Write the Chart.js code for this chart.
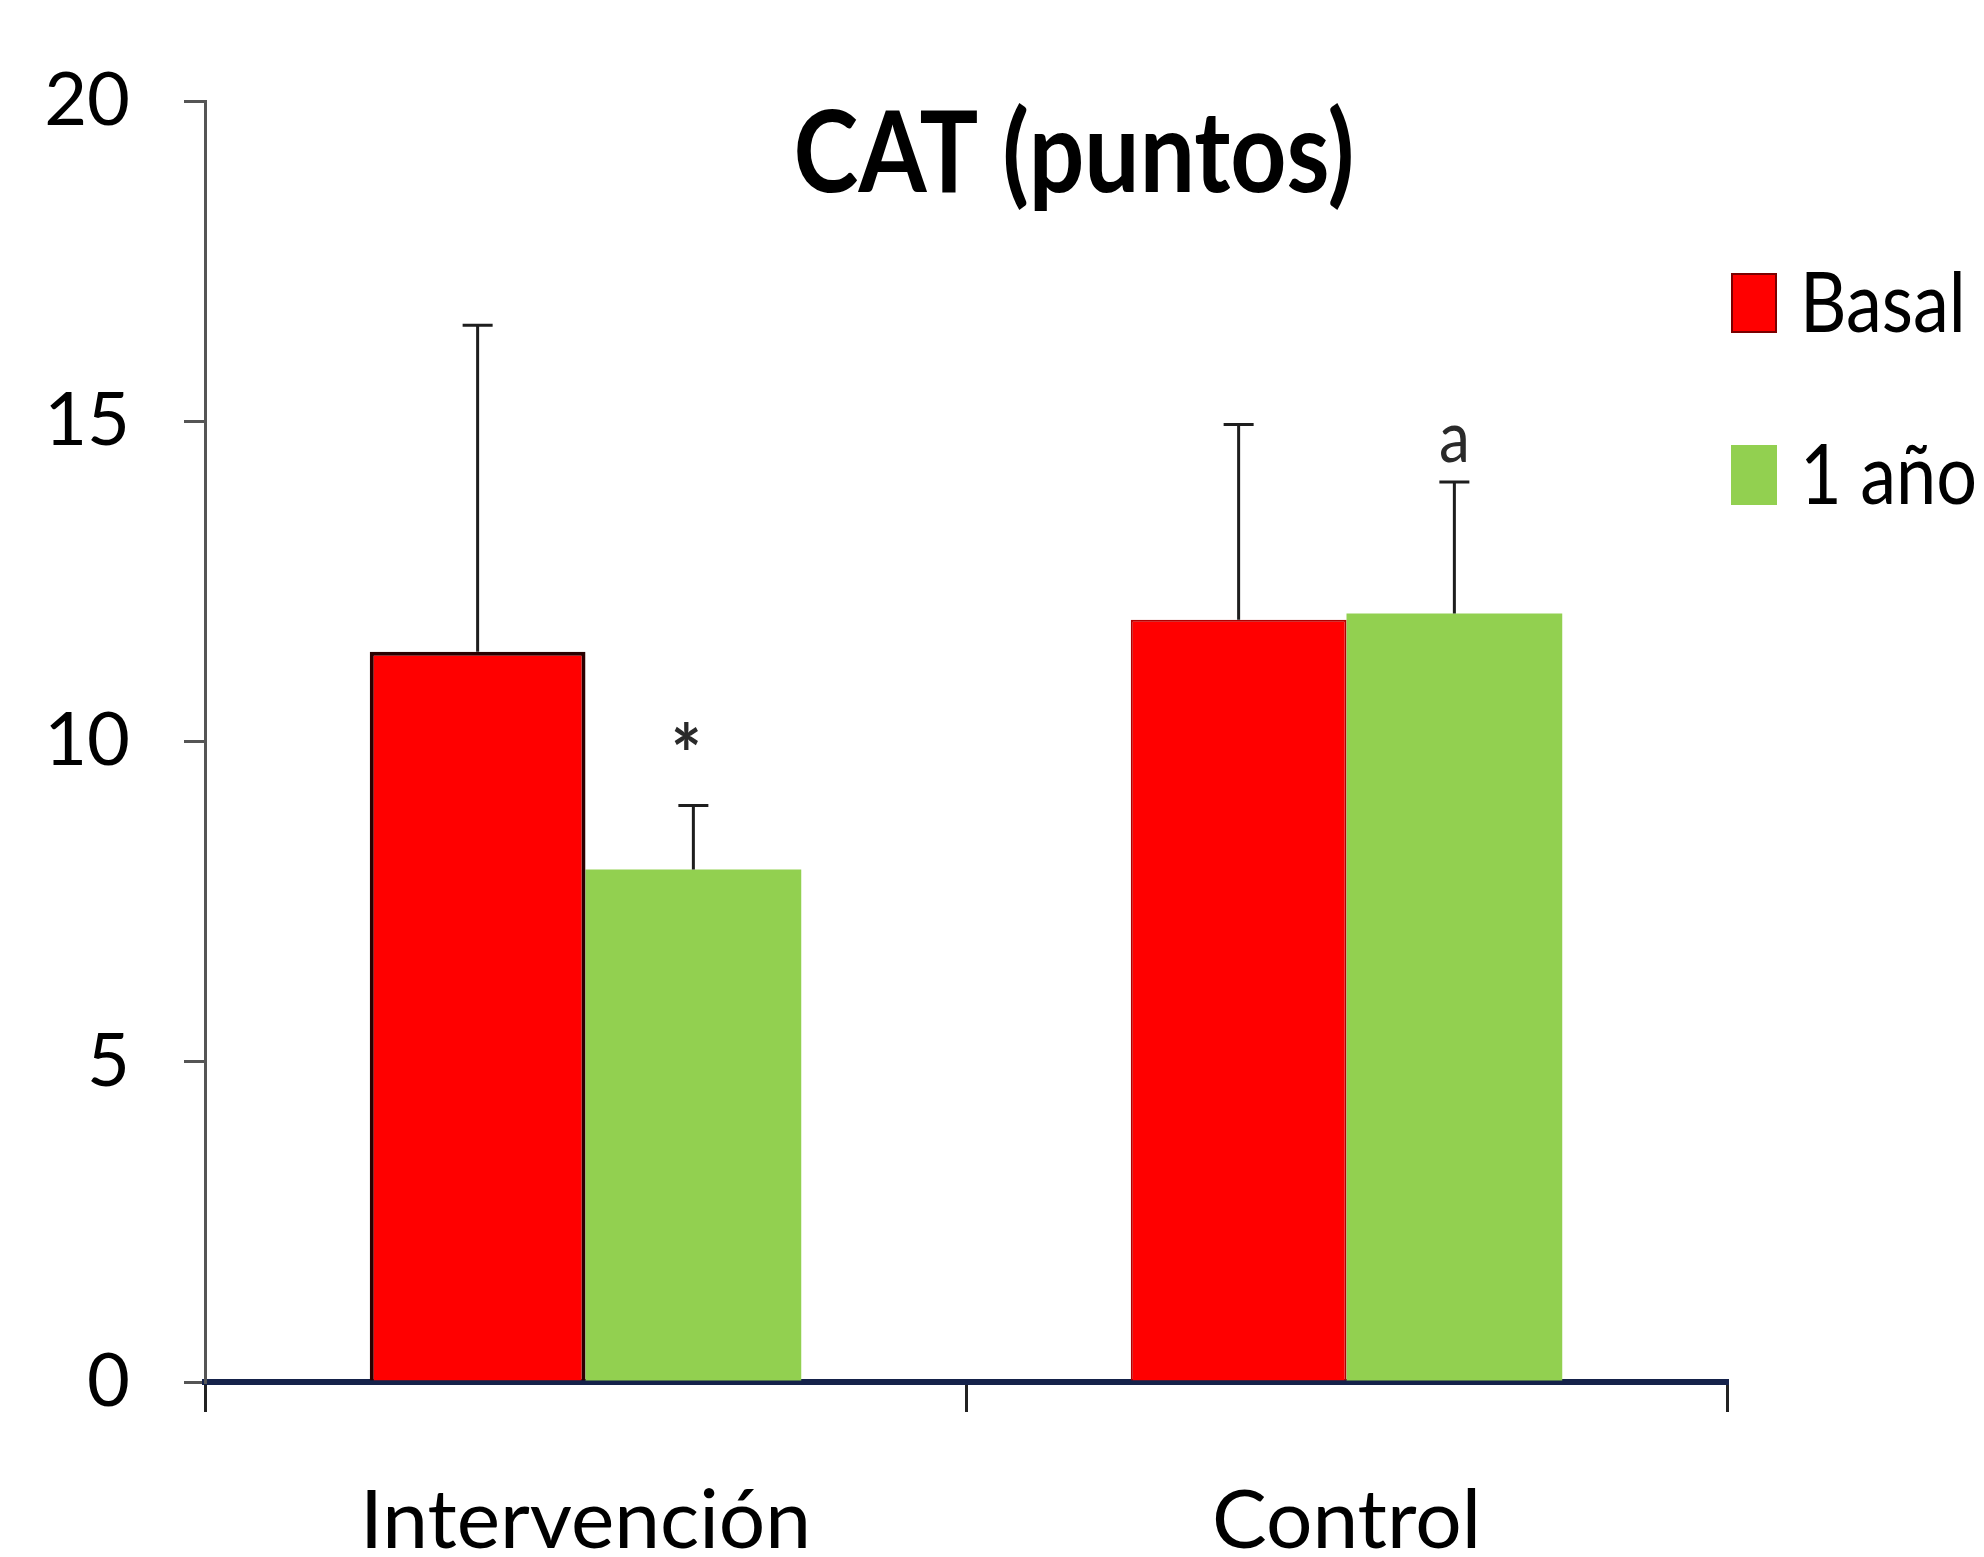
<!DOCTYPE html>
<html>
<head>
<meta charset="utf-8">
<script src="https://cdn.jsdelivr.net/npm/chart.js@4/dist/chart.umd.min.js"></script>
<style>
  html, body { margin: 0; padding: 0; background: #ffffff; }
  #wrap { width: 1984px; height: 1557px; position: relative; }
</style>
</head>
<body>
<div id="wrap"><canvas id="c" width="1984" height="1557"></canvas></div>
<script>
// ---- data ----
const titleText = 'CAT (puntos)';
const categories = ['Intervención', 'Control'];
const seriesLabels = ['Basal', '1 año'];
const basalValues = [11.4, 11.9];
const unAnoValues = [8.0, 12.0];
const basalErrTop = [16.5, 14.95];
const unAnoErrTop = [9.0, 14.05];
const yTickValues = [0, 5, 10, 15, 20];
const unAnoMarks = ['*', 'a'];
const unAnoMarkValues = [10.1, 14.65];

const FONT = "Lato, 'Liberation Sans', sans-serif";

// pick font sizes so that text widths match the picture
const mctx = document.createElement('canvas').getContext('2d');
function fitSize(text, weight, width) {
  mctx.font = weight + ' 100px ' + FONT;
  return Math.round(100 * width / mctx.measureText(text).width);
}
const xLabelSize = fitSize('Intervención', 400, 450);
const yLabelSize = fitSize('20', 400, 86);
const titleSize = fitSize(titleText, 700, 560);
const legendSize = fitSize('Basal', 400, 165);
const STRETCH = 1.15;

const errTops = [basalErrTop, unAnoErrTop];

function tallText(ctx, text, x, y) {
  ctx.save();
  ctx.translate(x, y);
  ctx.scale(1, STRETCH);
  ctx.fillText(text, 0, 0);
  ctx.restore();
}

const errorBarPlugin = {
  id: 'errorBars',
  afterDatasetsDraw(chart) {
    const ctx = chart.ctx;
    const y = chart.scales.y;
    ctx.save();
    ctx.strokeStyle = '#1e1e1e';
    ctx.lineWidth = 3;
    chart.data.datasets.forEach((ds, i) => {
      const meta = chart.getDatasetMeta(i);
      meta.data.forEach((el, j) => {
        const top = y.getPixelForValue(errTops[i][j]);
        ctx.beginPath();
        ctx.moveTo(el.x, el.y);
        ctx.lineTo(el.x, top);
        ctx.moveTo(el.x - 15, top);
        ctx.lineTo(el.x + 15, top);
        ctx.stroke();
      });
    });
    const meta1 = chart.getDatasetMeta(1);
    ctx.fillStyle = '#2a2a2a';
    ctx.textAlign = 'center';
    ctx.textBaseline = 'alphabetic';
    meta1.data.forEach((el, j) => {
      const txt = unAnoMarks[j];
      if (!txt) return;
      ctx.font = (txt === '*' ? '700 72px ' : '400 62px ') + FONT;
      const m = ctx.measureText(txt);
      const cy = y.getPixelForValue(unAnoMarkValues[j]);
      const base = cy + STRETCH * (m.actualBoundingBoxAscent - m.actualBoundingBoxDescent) / 2;
      tallText(ctx, txt, el.x - (txt === '*' ? 7 : 0), base);
    });
    ctx.restore();
  }
};

const titleLegendPlugin = {
  id: 'titleLegend',
  afterDraw(chart) {
    const ctx = chart.ctx;
    const ca = chart.chartArea;
    ctx.save();
    ctx.fillStyle = '#000';
    ctx.font = '700 ' + titleSize + 'px ' + FONT;
    ctx.textAlign = 'center';
    ctx.textBaseline = 'alphabetic';
    tallText(ctx, titleText, ca.left + 869, ca.top + 91);
    ctx.font = '400 ' + legendSize + 'px ' + FONT;
    ctx.textAlign = 'left';
    const rowTops = [ca.top + 172, ca.top + 344];
    chart.data.datasets.forEach((ds, i) => {
      const bx = ca.right + 4, by = rowTops[i];
      ctx.fillStyle = ds.backgroundColor;
      ctx.fillRect(bx, by, 46, 60);
      if (i === 0) {
        ctx.strokeStyle = '#7a0000';
        ctx.lineWidth = 2;
        ctx.strokeRect(bx + 1, by + 1, 44, 58);
      }
      ctx.fillStyle = '#000';
      tallText(ctx, ds.label, bx + 69, by + 59);
    });
    ctx.restore();
  }
};

new Chart(document.getElementById('c'), {
  type: 'bar',
  data: {
    labels: categories,
    datasets: [
      {
        label: seriesLabels[0],
        data: basalValues,
        backgroundColor: '#ff0000',
        borderColor: ['#2a0000', '#b00000'],
        borderWidth: [4, 2],
        borderSkipped: 'bottom'
      },
      {
        label: seriesLabels[1],
        data: unAnoValues,
        backgroundColor: '#92d050',
        borderWidth: 0
      }
    ]
  },
  options: {
    responsive: false,
    animation: false,
    devicePixelRatio: 1,
    layout: { padding: { top: 101, right: 257, bottom: 0, left: 0 } },
    datasets: { bar: { categoryPercentage: 0.567, barPercentage: 1.0 } },
    plugins: {
      legend: { display: false },
      title: { display: false },
      tooltip: { enabled: false }
    },
    scales: {
      x: {
        offset: true,
        border: { display: true, color: '#15224a', width: 6 },
        grid: { display: true, offset: true, drawOnChartArea: false, drawTicks: true, tickLength: 30, color: '#222', lineWidth: 3 },
        ticks: { color: '#000', padding: 60, font: { family: FONT, size: xLabelSize } },
        afterFit(s) { s.height = 175; }
      },
      y: {
        min: 0, max: 20,
        afterBuildTicks(s) { s.ticks = yTickValues.map(v => ({ value: v })); },
        border: { display: true, color: '#555', width: 3 },
        grid: { display: true, drawOnChartArea: false, drawTicks: true, tickLength: 21, color: '#555', lineWidth: 3 },
        ticks: { color: '#000', padding: 54, font: { family: FONT, size: yLabelSize } },
        afterFit(s) { s.width = 205; }
      }
    }
  },
  plugins: [errorBarPlugin, titleLegendPlugin]
});
</script>
</body>
</html>
